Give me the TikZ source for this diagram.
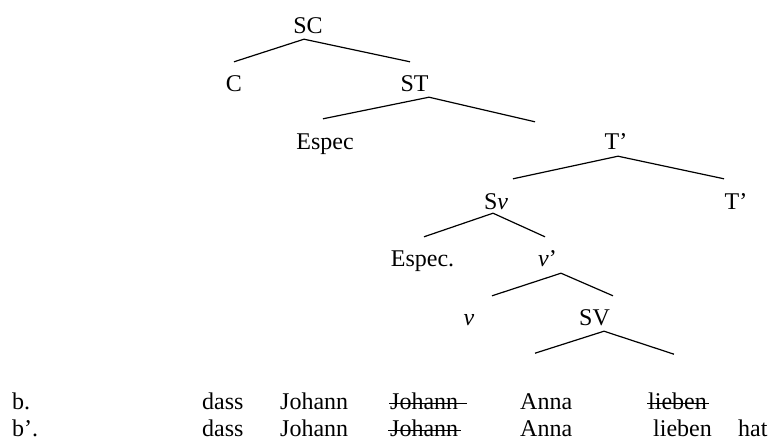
\documentclass[tikz,border=0pt]{standalone}
\usepackage{fontspec}
\setmainfont{Liberation Serif}
\usepackage{tikz}
\usetikzlibrary{positioning}

\begin{document}
\begin{tikzpicture}[on grid,
    lbl/.style={inner sep=0pt, text height=15pt, text depth=4pt,
                font=\fontsize{24pt}{28pt}\selectfont},
    word/.style={inner sep=0pt, anchor=base west,
                 font=\fontsize{24pt}{28pt}\selectfont},
    branch/.style={line width=1.2pt},
    strike/.style={line width=1.5pt}]
    \useasboundingbox (0,0) rectangle (773pt,-442pt);
    % the tree
    \node[lbl] (SC) at (308pt,-27.5pt) {SC};
    \node[lbl, below left=58pt and 74pt of SC] (C) {C};
    \node[lbl, below right=58pt and 106.5pt of SC] (ST) {ST};
    \node[lbl, below left=58pt and 89.5pt of ST] (Espec) {Espec};
    \node[lbl, below right=58pt and 201.5pt of ST] (Tbar) {T’};
    \node[lbl, below left=60pt and 120pt of Tbar] (Sv) {S\textit{v}};
    \node[lbl, below right=60pt and 120pt of Tbar] (Tbar2) {T’};
    \node[lbl, below left=57pt and 73.5pt of Sv] (EspecV) {Espec.};
    \node[lbl, below right=57pt and 51.5pt of Sv] (vbar) {\textit{v}’};
    \node[lbl, below left=59pt and 78.5pt of vbar] (v) {\textit{v}};
    \node[lbl, below right=59pt and 47pt of vbar] (SV) {SV};
    % branches, one path per fork
    \draw[branch] ([yshift=14pt]C.north) -- ([shift={(-4pt,-2pt)}]SC.south)
        -- ([shift={(-4.5pt,14pt)}]ST.north);
    \draw[branch] ([shift={(-2pt,15pt)}]Espec.north) -- ([shift={(14.5pt,-2pt)}]ST.south)
        -- ([shift={(-81pt,12pt)}]Tbar.north);
    \draw[branch] ([shift={(17pt,15pt)}]Sv.north) -- ([shift={(2pt,-3pt)}]Tbar.south)
        -- ([shift={(-12pt,15pt)}]Tbar2.north);
    \draw[branch] ([shift={(1.5pt,14pt)}]EspecV.north) -- ([shift={(-3pt,0pt)}]Sv.south)
        -- ([shift={(-2.5pt,14pt)}]vbar.north);
    \draw[branch] ([shift={(23pt,14pt)}]v.north) -- ([shift={(13.5pt,-3pt)}]vbar.south)
        -- ([shift={(18.5pt,14pt)}]SV.north);
    \coordinate (SV-l) at ([shift={(-59.5pt,-24pt)}]SV.south);
    \coordinate (SV-r) at ([shift={(79.5pt,-25pt)}]SV.south);
    \draw[branch] (SV-l) -- ([shift={(9.5pt,-2pt)}]SV.south) -- (SV-r);
    % the two example lines
    \node[word] (b1) at (12pt,-409pt) {b.};
    \node[word] (dass1) at (202pt,-409pt) {dass};
    \node[word] (johann1) at (280pt,-409pt) {Johann};
    \node[word] (johannx1) at (390pt,-409pt) {Johann};
    \node[word] (anna1) at (520pt,-409pt) {Anna};
    \node[word] (liebenx1) at (648pt,-409pt) {lieben};
    \node[word] (b2) at (12pt,-436pt) {b’.};
    \node[word] (dass2) at (202pt,-436pt) {dass};
    \node[word] (johann2) at (280pt,-436pt) {Johann};
    \node[word] (johannx2) at (390pt,-436pt) {Johann};
    \node[word] (anna2) at (520pt,-436pt) {Anna};
    \node[word] (lieben2) at (653pt,-436pt) {lieben};
    \node[word] (hat2) at (738pt,-436pt) {hat};
    % struck-out copies
    \draw[strike] ([shift={(-1pt,5.5pt)}]johannx1.base west) -- ([shift={(9pt,5.5pt)}]johannx1.base east);
    \draw[strike] ([shift={(-2pt,5.5pt)}]johannx2.base west) -- ([shift={(3pt,5.5pt)}]johannx2.base east);
    \draw[strike] ([shift={(-1pt,5.5pt)}]liebenx1.base west) -- ([shift={(2pt,5.5pt)}]liebenx1.base east);
\end{tikzpicture}
\end{document}
